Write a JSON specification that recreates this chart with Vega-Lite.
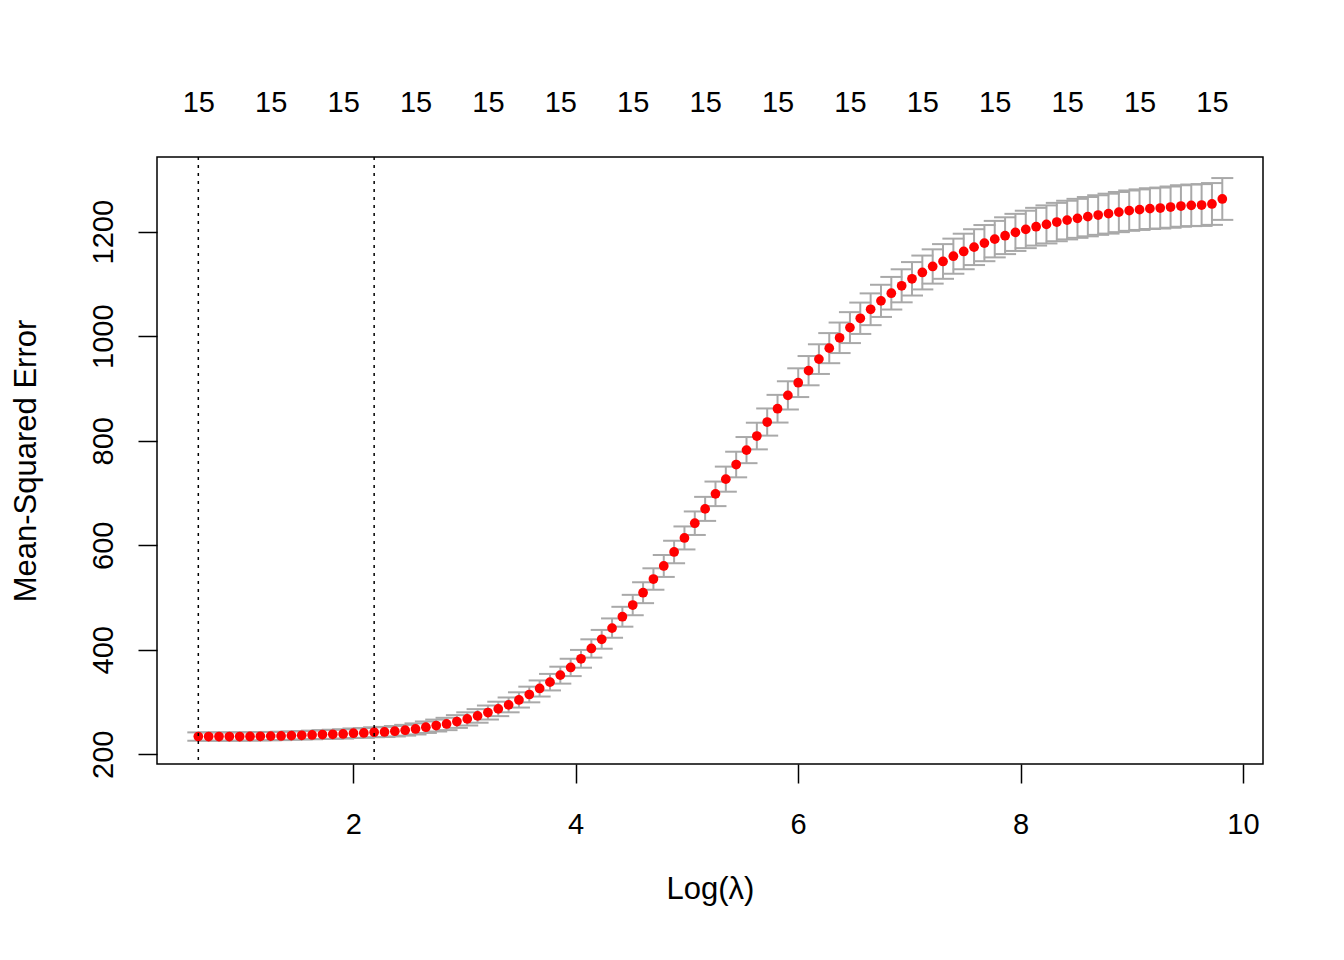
{
  "$schema": "https://vega.github.io/schema/vega-lite/v6.json",
  "description": "Cross-validated mean-squared error against log(lambda), with standard error bars.",
  "width": 1106,
  "height": 607,
  "autosize": "none",
  "padding": {"left": 157, "top": 157, "right": 81, "bottom": 196},
  "background": "white",
  "config": {
    "view": {"stroke": "black", "strokeWidth": 1.5},
    "font": "Liberation Sans",
    "axis": {
      "grid": false,
      "domain": false,
      "tickColor": "black",
      "tickWidth": 1.5,
      "tickSize": 19,
      "labelColor": "black",
      "labelFont": "Liberation Sans",
      "labelFontSize": 29,
      "labelFlush": false,
      "labelOverlap": false,
      "titleColor": "black",
      "titleFont": "Liberation Sans",
      "titleFontSize": 31,
      "titleFontWeight": "normal"
    }
  },
  "data": {
    "values": [
      {"x": 0.607, "mse": 233.9, "lo": 225.9, "hi": 241.9},
      {"x": 0.700, "mse": 233.9, "lo": 225.9, "hi": 241.9},
      {"x": 0.793, "mse": 233.9, "lo": 225.9, "hi": 241.9},
      {"x": 0.886, "mse": 233.9, "lo": 225.9, "hi": 241.9},
      {"x": 0.979, "mse": 234.0, "lo": 226.0, "hi": 242.0},
      {"x": 1.072, "mse": 234.1, "lo": 226.1, "hi": 242.1},
      {"x": 1.165, "mse": 234.5, "lo": 226.5, "hi": 242.5},
      {"x": 1.258, "mse": 234.8, "lo": 226.8, "hi": 242.8},
      {"x": 1.351, "mse": 235.1, "lo": 227.1, "hi": 243.1},
      {"x": 1.444, "mse": 235.8, "lo": 227.8, "hi": 243.8},
      {"x": 1.537, "mse": 236.4, "lo": 228.4, "hi": 244.4},
      {"x": 1.630, "mse": 237.0, "lo": 228.7, "hi": 245.3},
      {"x": 1.723, "mse": 237.8, "lo": 229.3, "hi": 246.3},
      {"x": 1.816, "mse": 238.3, "lo": 229.6, "hi": 247.0},
      {"x": 1.909, "mse": 238.9, "lo": 230.0, "hi": 247.8},
      {"x": 2.002, "mse": 240.3, "lo": 231.2, "hi": 249.4},
      {"x": 2.095, "mse": 240.8, "lo": 231.5, "hi": 250.1},
      {"x": 2.188, "mse": 242.2, "lo": 232.7, "hi": 251.7},
      {"x": 2.281, "mse": 242.7, "lo": 233.0, "hi": 252.4},
      {"x": 2.374, "mse": 244.1, "lo": 234.1, "hi": 254.1},
      {"x": 2.467, "mse": 246.0, "lo": 235.7, "hi": 256.3},
      {"x": 2.560, "mse": 248.5, "lo": 237.9, "hi": 259.1},
      {"x": 2.653, "mse": 251.8, "lo": 240.8, "hi": 262.8},
      {"x": 2.746, "mse": 255.0, "lo": 243.6, "hi": 266.4},
      {"x": 2.839, "mse": 258.0, "lo": 246.2, "hi": 269.8},
      {"x": 2.932, "mse": 262.7, "lo": 250.5, "hi": 274.9},
      {"x": 3.025, "mse": 267.7, "lo": 255.1, "hi": 280.3},
      {"x": 3.118, "mse": 273.4, "lo": 260.4, "hi": 286.4},
      {"x": 3.211, "mse": 279.9, "lo": 266.5, "hi": 293.3},
      {"x": 3.304, "mse": 286.8, "lo": 273.0, "hi": 300.6},
      {"x": 3.397, "mse": 294.5, "lo": 280.3, "hi": 308.7},
      {"x": 3.490, "mse": 304.0, "lo": 289.4, "hi": 318.6},
      {"x": 3.583, "mse": 314.4, "lo": 299.4, "hi": 329.4},
      {"x": 3.676, "mse": 325.9, "lo": 310.5, "hi": 341.3},
      {"x": 3.769, "mse": 338.0, "lo": 322.2, "hi": 353.8},
      {"x": 3.862, "mse": 351.4, "lo": 335.2, "hi": 367.6},
      {"x": 3.955, "mse": 366.2, "lo": 349.6, "hi": 382.8},
      {"x": 4.048, "mse": 382.7, "lo": 365.7, "hi": 399.7},
      {"x": 4.141, "mse": 402.5, "lo": 385.0, "hi": 420.0},
      {"x": 4.234, "mse": 420.0, "lo": 402.0, "hi": 438.0},
      {"x": 4.327, "mse": 441.5, "lo": 423.0, "hi": 460.0},
      {"x": 4.420, "mse": 463.2, "lo": 444.2, "hi": 482.2},
      {"x": 4.513, "mse": 485.6, "lo": 466.1, "hi": 505.1},
      {"x": 4.606, "mse": 509.2, "lo": 489.2, "hi": 529.2},
      {"x": 4.699, "mse": 535.4, "lo": 514.9, "hi": 555.9},
      {"x": 4.792, "mse": 560.4, "lo": 539.4, "hi": 581.4},
      {"x": 4.885, "mse": 587.2, "lo": 565.7, "hi": 608.7},
      {"x": 4.978, "mse": 614.0, "lo": 592.0, "hi": 636.0},
      {"x": 5.071, "mse": 642.2, "lo": 619.7, "hi": 664.7},
      {"x": 5.164, "mse": 669.6, "lo": 646.6, "hi": 692.6},
      {"x": 5.257, "mse": 698.4, "lo": 674.9, "hi": 721.9},
      {"x": 5.350, "mse": 726.5, "lo": 702.5, "hi": 750.5},
      {"x": 5.443, "mse": 754.5, "lo": 730.0, "hi": 779.0},
      {"x": 5.536, "mse": 782.1, "lo": 757.1, "hi": 807.1},
      {"x": 5.629, "mse": 809.0, "lo": 783.5, "hi": 834.5},
      {"x": 5.722, "mse": 835.8, "lo": 809.8, "hi": 861.8},
      {"x": 5.815, "mse": 861.3, "lo": 834.8, "hi": 887.8},
      {"x": 5.908, "mse": 886.8, "lo": 859.8, "hi": 913.8},
      {"x": 6.001, "mse": 911.1, "lo": 883.6, "hi": 938.6},
      {"x": 6.094, "mse": 934.1, "lo": 906.1, "hi": 962.1},
      {"x": 6.187, "mse": 956.2, "lo": 927.8, "hi": 984.6},
      {"x": 6.280, "mse": 977.2, "lo": 948.4, "hi": 1006.0},
      {"x": 6.373, "mse": 997.0, "lo": 967.8, "hi": 1026.2},
      {"x": 6.466, "mse": 1016.5, "lo": 986.9, "hi": 1046.1},
      {"x": 6.559, "mse": 1034.4, "lo": 1004.4, "hi": 1064.4},
      {"x": 6.652, "mse": 1051.6, "lo": 1021.2, "hi": 1082.0},
      {"x": 6.745, "mse": 1067.7, "lo": 1036.9, "hi": 1098.5},
      {"x": 6.838, "mse": 1082.3, "lo": 1051.1, "hi": 1113.5},
      {"x": 6.931, "mse": 1096.5, "lo": 1064.9, "hi": 1128.1},
      {"x": 7.024, "mse": 1109.9, "lo": 1077.9, "hi": 1141.9},
      {"x": 7.117, "mse": 1122.0, "lo": 1089.6, "hi": 1154.4},
      {"x": 7.210, "mse": 1133.5, "lo": 1100.7, "hi": 1166.3},
      {"x": 7.303, "mse": 1143.1, "lo": 1109.9, "hi": 1176.3},
      {"x": 7.396, "mse": 1153.2, "lo": 1119.6, "hi": 1186.8},
      {"x": 7.489, "mse": 1162.2, "lo": 1128.2, "hi": 1196.2},
      {"x": 7.582, "mse": 1170.5, "lo": 1136.2, "hi": 1204.8},
      {"x": 7.675, "mse": 1178.2, "lo": 1143.6, "hi": 1212.8},
      {"x": 7.768, "mse": 1185.8, "lo": 1150.9, "hi": 1220.7},
      {"x": 7.861, "mse": 1192.4, "lo": 1157.2, "hi": 1227.6},
      {"x": 7.954, "mse": 1198.7, "lo": 1163.2, "hi": 1234.2},
      {"x": 8.047, "mse": 1204.4, "lo": 1168.6, "hi": 1240.2},
      {"x": 8.140, "mse": 1209.6, "lo": 1173.5, "hi": 1245.7},
      {"x": 8.233, "mse": 1214.0, "lo": 1177.6, "hi": 1250.4},
      {"x": 8.326, "mse": 1218.5, "lo": 1181.8, "hi": 1255.2},
      {"x": 8.419, "mse": 1222.3, "lo": 1185.3, "hi": 1259.3},
      {"x": 8.512, "mse": 1225.6, "lo": 1188.3, "hi": 1262.9},
      {"x": 8.605, "mse": 1228.8, "lo": 1191.2, "hi": 1266.4},
      {"x": 8.698, "mse": 1231.9, "lo": 1194.0, "hi": 1269.8},
      {"x": 8.791, "mse": 1234.6, "lo": 1196.4, "hi": 1272.8},
      {"x": 8.884, "mse": 1237.6, "lo": 1199.2, "hi": 1276.0},
      {"x": 8.977, "mse": 1240.3, "lo": 1201.7, "hi": 1278.9},
      {"x": 9.070, "mse": 1242.2, "lo": 1203.4, "hi": 1281.0},
      {"x": 9.163, "mse": 1244.2, "lo": 1205.2, "hi": 1283.2},
      {"x": 9.256, "mse": 1245.3, "lo": 1206.1, "hi": 1284.5},
      {"x": 9.349, "mse": 1247.2, "lo": 1207.8, "hi": 1286.6},
      {"x": 9.442, "mse": 1249.2, "lo": 1209.6, "hi": 1288.8},
      {"x": 9.535, "mse": 1250.5, "lo": 1210.7, "hi": 1290.3},
      {"x": 9.628, "mse": 1251.1, "lo": 1211.1, "hi": 1291.1},
      {"x": 9.721, "mse": 1253.1, "lo": 1213.1, "hi": 1293.1},
      {"x": 9.814, "mse": 1262.7, "lo": 1222.7, "hi": 1302.7}
    ]
  },
  "layer": [
    {
      "mark": {"type": "rule", "color": "#A9A9A9", "strokeWidth": 2},
      "encoding": {
        "x": {
          "field": "x", "type": "quantitative",
          "scale": {"domain": [0.2355, 10.18], "nice": false, "zero": false},
          "axis": {"orient": "bottom", "values": [2, 4, 6, 8, 10], "labelPadding": 27, "title": "Log(λ)", "titlePadding": 35}
        },
        "y": {
          "field": "lo", "type": "quantitative",
          "scale": {"domain": [181.4, 1343], "nice": false, "zero": false},
          "axis": {"title": "Mean-Squared Error", "values": [200, 400, 600, 800, 1000, 1200], "format": "d", "labelAngle": -90, "labelAlign": "center", "labelBaseline": "alphabetic", "labelPadding": 26, "titleBaseline": "alphabetic", "titlePadding": 54}
        },
        "y2": {"field": "hi"}
      }
    },
    {
      "mark": {"type": "tick", "orient": "horizontal", "color": "#A9A9A9", "size": 22, "thickness": 2, "opacity": 1},
      "encoding": {
        "x": {"field": "x", "type": "quantitative", "axis": null},
        "y": {
          "field": "lo", "type": "quantitative",
          "axis": {"title": "Mean-Squared Error", "values": [200, 400, 600, 800, 1000, 1200], "format": "d", "labelAngle": -90, "labelAlign": "center", "labelBaseline": "alphabetic", "labelPadding": 26, "titleBaseline": "alphabetic", "titlePadding": 54}
        }
      }
    },
    {
      "mark": {"type": "tick", "orient": "horizontal", "color": "#A9A9A9", "size": 22, "thickness": 2, "opacity": 1},
      "encoding": {
        "x": {"field": "x", "type": "quantitative", "axis": null},
        "y": {
          "field": "hi", "type": "quantitative",
          "axis": {"title": "Mean-Squared Error", "values": [200, 400, 600, 800, 1000, 1200], "format": "d", "labelAngle": -90, "labelAlign": "center", "labelBaseline": "alphabetic", "labelPadding": 26, "titleBaseline": "alphabetic", "titlePadding": 54}
        }
      }
    },
    {
      "mark": {"type": "circle", "color": "#FF0000", "size": 95, "opacity": 1},
      "encoding": {
        "x": {
          "field": "x", "type": "quantitative",
          "axis": {
            "orient": "top",
            "values": [0.607, 1.258, 1.909, 2.56, 3.211, 3.862, 4.513, 5.164, 5.815, 6.466, 7.117, 7.768, 8.419, 9.07, 9.721],
            "labelExpr": "'15'",
            "ticks": false,
            "labelBaseline": "alphabetic",
            "labelPadding": 46,
            "title": null
          }
        },
        "y": {
          "field": "mse", "type": "quantitative",
          "axis": {"title": "Mean-Squared Error", "values": [200, 400, 600, 800, 1000, 1200], "format": "d", "labelAngle": -90, "labelAlign": "center", "labelBaseline": "alphabetic", "labelPadding": 26, "titleBaseline": "alphabetic", "titlePadding": 54}
        }
      }
    },
    {
      "data": {"values": [{"x": 0.607, "which": "lambda.min"}, {"x": 2.188, "which": "lambda.1se"}]},
      "mark": {"type": "rule", "color": "black", "strokeWidth": 1.5, "strokeDash": [3, 5]},
      "encoding": {
        "x": {"field": "x", "type": "quantitative", "axis": null}
      }
    }
  ]
}
